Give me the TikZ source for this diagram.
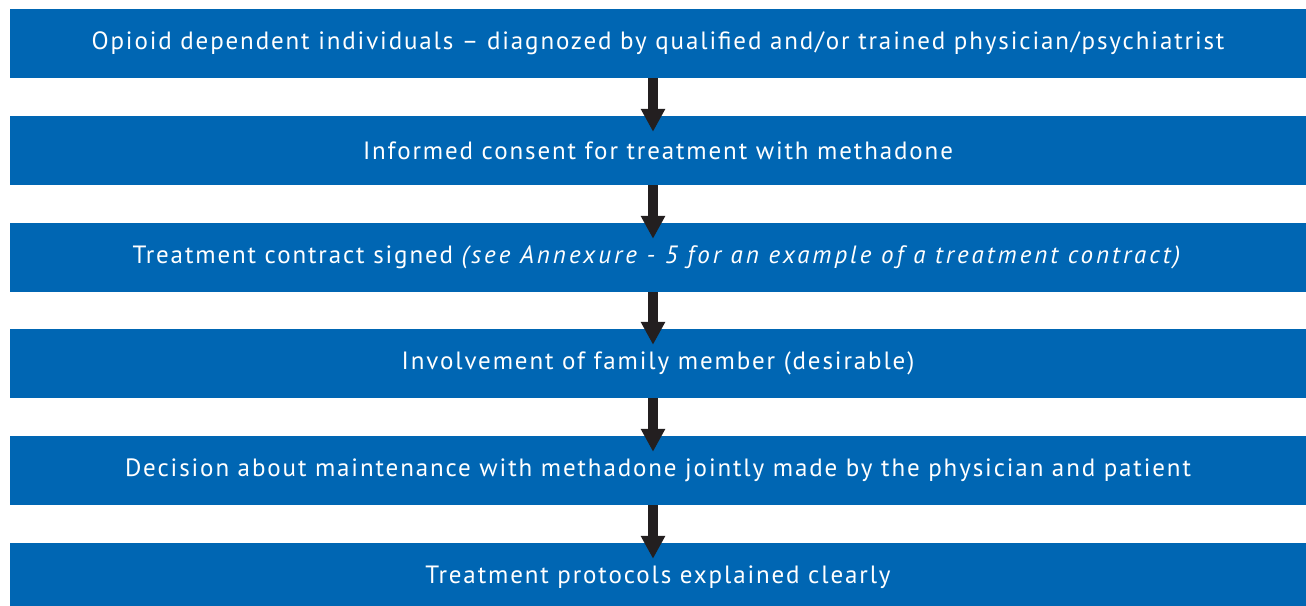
\documentclass[tikz,border=0pt]{standalone}
\usepackage{fontspec}
\setmainfont[LetterSpace=7.5,ItalicFeatures={LetterSpace=12}]{PT Sans}
\usepackage{tikz}
\usetikzlibrary{arrows.meta}
\definecolor{boxblue}{RGB}{0,102,179}
\definecolor{arrowdark}{RGB}{35,31,32}
\tikzset{
    stepbox/.style={rectangle,fill=boxblue,text=white,minimum width=1296pt,minimum height=69pt,
        inner sep=0pt,font=\fontsize{25}{29}\selectfont},
    flow/.style={draw=arrowdark,line width=10pt,-{Triangle[width=23pt,length=23pt]},shorten >=-16pt}
}

\begin{document}
\begin{tikzpicture}[x=1pt,y=-1pt]
    \useasboundingbox (0,0) rectangle (1306,605);
    \clip (0,0) rectangle (1306,605);
    \node[stepbox] (b1) at (658,43.5) {Opioid dependent individuals – diagnozed by qualified and/or trained physician/psychiatrist};
    \node[stepbox] (b2) at (658,150.5) {Informed consent for treatment with methadone};
    \node[stepbox] (b3) at (658,257.5) {Treatment contract signed \textit{(see Annexure - 5 for an example of a treatment contract)}};
    \node[stepbox] (b4) at (658,363.5) {Involvement of family member (desirable)};
    \node[stepbox] (b5) at (658,470.5) {Decision about maintenance with methadone jointly made by the physician and patient};
    \node[stepbox] (b6) at (658,577.5) {Treatment protocols explained clearly};
    % arrows between the steps
    \foreach \a/\b in {b1/b2,b2/b3,b3/b4,b4/b5,b5/b6}
        \draw[flow] ([xshift=-5pt]\a.south) -- ([xshift=-5pt]\b.north);
\end{tikzpicture}
\end{document}
